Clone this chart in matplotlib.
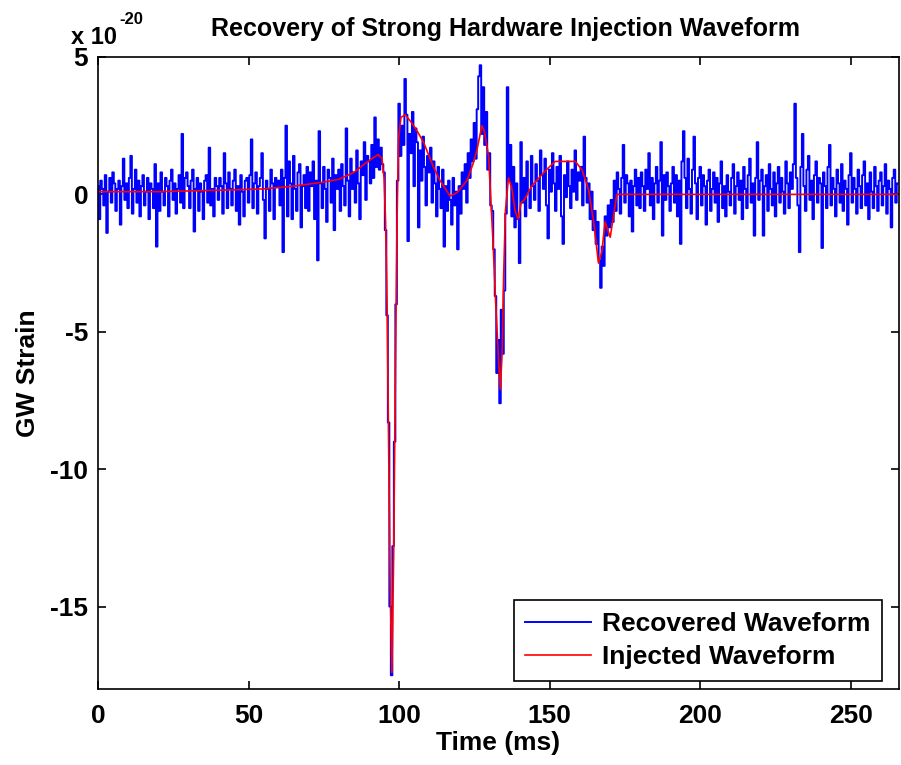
import numpy as np
import matplotlib
matplotlib.use("Agg")
import matplotlib.pyplot as plt

plt.rcParams['font.family'] = ['Liberation Sans', 'DejaVu Sans']
plt.rcParams['font.weight'] = 'bold'
plt.rcParams['axes.labelweight'] = 'bold'
plt.rcParams['axes.unicode_minus'] = False

# Señal recuperada (unidades de 1e-20), muestreo cada 0.5 ms
dt_ms = 0.5
recovered = [
    0.3, -0.9, 0.5, 0.2, -0.4, 0.7, -1.4, 0.1, 0.6, -0.3, 0.8, 0.4, -0.6, 0.2, 0.5, -1.1, 0.3, 1.3, -0.2, 0.4,
    -0.5, 0.6, 1.4, -0.7, 0.2, 0.9, -0.3, 0.5, -0.8, 0.3, 0.7, -0.4, 0.1, 0.6, -0.9, 0.4, 0.2, -0.5, 1.1, -1.9,
    0.4, -0.6, 0.8, 0.1, -0.4, 0.6, 0.3, -0.8, 0.5, 0.9, -0.2, 0.4, -0.7, 0.2, 0.7, -0.3, 2.2, -0.5, 0.6, 0.8,
    0.3, -0.5, 0.5, 0.9, -1.35, 0.2, 0.6, -0.6, 0.4, 0.1, -0.9, 0.5, 0.7, -0.3, 1.7, -0.4, 0.2, -0.8, 0.6, 0.3,
    -0.2, 0.6, 0.3, -0.7, 1.5, 0.4, -0.5, 0.8, 0.2, -0.4, 0.5, 0.9, -0.6, 0.3, -1.1, 0.7, 0.1, -0.8, 0.5, 0.6,
    -0.3, 0.7, 2.0, -0.5, 0.4, 0.8, -0.7, 0.3, 0.6, 1.5, -0.2, -1.6, 0.5, 0.2, -0.6, 0.9, 0.4, -0.9, 0.6, 0.3,
    0.5, -0.4, 0.9, -2.1, 0.6, 2.5, -0.8, 1.2, 0.4, -0.9, 1.4, 0.2, -0.6, 0.8, 1.1, -1.2, 0.3, 0.7, -0.5, 1.0,
    -0.6, 0.8, 0.3, 1.2, -0.9, 0.5, -2.4, 2.3, 0.4, -0.5, 1.0, 0.2, -1.0, 0.9, 0.6, -0.3, 1.3, -1.3, 0.7, 0.2,
    0.9, -0.6, 1.1, 0.3, -0.4, 2.4, 0.5, -0.8, 1.3, 0.2, 0.8, -0.3, 1.6, 0.4, -0.9, 1.2, 0.7, 1.9, -0.2, 1.4,
    1.2, 0.4, 1.8, 0.6, 2.8, 1.0, 2.0, 0.9, 1.7, 1.1, 0.8, -1.3, -4.4, -8.3, -15.0, -17.5, -12.8, -9.0, -4.0, 0.5,
    3.3, 1.4, 2.5, 1.8, 4.2, 2.9, -1.7, 2.2, 1.5, 3.0, 0.3, 2.4, 1.9, -1.2, 1.6, 0.5, 2.1, 1.0, -0.4, 1.4,
    0.8, 1.7, -0.3, 1.2, 0.4, -0.8, 1.0, 0.2, -0.5, 0.9, -1.9, 0.3, -0.6, 0.5, -0.2, -1.1, 0.6, -0.4, 0.1, -2.0,
    0.3, -0.7, 0.8, 0.2, 1.1, -0.3, 1.5, 0.6, 2.0, 1.2, 2.6, 1.3, 3.1, 4.3, 4.7, 2.2, 3.9, 1.8, 3.0, 0.9,
    1.5, -0.4, -0.6, -2.0, -3.7, -6.5, -5.3, -7.6, -4.2, -5.8, -3.5, -0.7, 3.9, 0.5, 1.8, -0.8, 1.0, -1.2, 0.4, -0.9,
    -2.5, 1.9, -0.3, 0.6, -0.8, 1.2, 0.1, -0.5, 1.4, 0.3, -0.2, 1.1, 0.5, -0.6, 1.6, 0.7, 0.2, 1.3, -0.4, -1.6,
    0.9, 0.1, 1.5, 0.4, -0.6, 1.0, 0.2, 1.4, -0.8, -1.8, 0.7, -0.1, 1.2, 0.3, -0.5, 0.9, 0.1, 1.6, -0.2, 0.8,
    0.5, 1.0, -0.4, 2.1, 0.6, -0.3, 0.4, -0.9, 0.1, -1.3, -0.6, -1.8, -1.0, -2.4, -3.4, -1.9, -2.6, -0.8, -1.5, -0.4,
    -1.2, -0.2, -1.0, 0.5, -0.6, 0.8, 0.2, -0.7, 0.6, 1.8, -0.3, 0.7, 0.4, -0.8, 0.5, -1.35, 0.3, 0.9, -0.4, 0.6,
    -0.5, 0.8, 0.3, -0.6, 0.9, 0.2, 1.5, -0.4, 0.6, -0.9, 0.4, 1.0, -0.3, 0.5, 1.9, -1.5, 0.7, -0.2, 0.8, 0.3,
    -0.6, 0.4, 1.0, -0.3, 0.7, -0.8, 0.5, -1.8, 1.2, 2.3, 0.6, -0.5, 1.3, 0.2, -0.7, 0.9, 2.1, 0.4, -0.9, 0.6,
    1.0, -0.4, 0.7, 0.3, -1.1, 0.5, 0.9, -0.6, 0.2, 0.8, -0.3, 0.6, -1.0, 0.4, 1.2, -0.5, 0.3, -0.8, 0.7, 0.1,
    -0.4, 0.6, 1.1, -0.7, 0.3, 0.8, -0.2, 0.5, -0.9, 1.0, 0.2, -0.5, 0.7, 1.3, -0.3, 0.4, -1.5, 0.6, 1.9, -0.2,
    0.5, 0.9, -1.5, 0.3, 0.7, -0.6, 1.1, 0.2, -0.4, 0.8, -0.8, 0.4, 1.0, -0.3, 0.6, 0.1, -0.7, 1.2, 0.4, -0.5,
    0.8, 0.2, 1.1, 3.3, 0.6, -0.4, -2.1, 1.0, 2.2, 0.3, -0.6, 0.9, 1.4, -0.2, 0.5, -0.9, 0.7, 1.2, -0.3, 0.6,
    0.4, -1.95, 0.8, 0.3, -0.5, 1.0, 1.8, -0.4, 0.6, 0.2, -0.8, 0.9, 0.4, -0.3, 1.1, -0.6, 0.5, 0.2, -1.1, 0.7,
    1.5, -0.3, 0.6, 0.2, -0.7, 0.9, 0.3, -0.5, 0.7, 1.2, -0.4, 0.4, -0.9, 0.8, 0.1, -0.5, 1.0, 0.3, -0.6, 0.5,
    0.8, -0.4, 0.3, 1.1, -0.7, 0.5, 0.2, -1.2, 0.6, 0.9, -0.3, 0.4,
]
t_recovered = np.arange(len(recovered)) * dt_ms

# Forma de onda inyectada (unidades de 1e-20)
t_injected = [0, 20, 40, 55, 65, 75, 80, 85, 89, 93, 94.3, 95.0, 95.5, 96.0, 96.5, 97.0, 97.6,
              98.2, 98.8, 99.3, 99.8, 100.6, 102.0, 104.2, 106.0, 108.1, 111.4, 113.6, 116.9,
              119.2, 122.5, 124.5, 125.8, 127.5, 128.3, 129.7, 130.6, 131.3, 132.0, 133.0, 133.6,
              134.2, 134.7, 135.3, 136.3, 137.5, 138.5, 139.5, 140.5, 141.7, 144.0, 147.4, 149.6,
              151.8, 158.5, 160.7, 162.9, 164.6, 166.2, 167.3, 168.4, 170.1, 171.2, 172.3, 266.0]
injected = [0.1, 0.1, 0.15, 0.2, 0.3, 0.45, 0.55, 0.8, 1.15, 1.45, 1.3, 0.6, -1.0, -4.0, -9.0, -14.0, -17.4,
            -13.0, -6.0, -1.0, 2.0, 2.8, 2.9, 2.6, 2.3, 1.9, 1.0, 0.5, -0.06,
            0.06, 0.5, 1.1, 1.6, 2.5, 2.3, 1.4, -0.5, -2.0, -3.8, -6.0, -7.1,
            -5.8, -3.0, -0.6, 0.6, 0.2, -0.6, -0.9, -0.3, -0.18, 0.3, 0.72, 0.97,
            1.2, 1.2, 0.9, 0.18, -1.0, -2.5, -2.1, -1.0, -1.56, -0.78, 0.0, 0.0]

fig = plt.figure(figsize=(9.01, 7.65), dpi=100)
ax = fig.add_axes([98 / 901, 1 - 689 / 765, 801 / 901, 632 / 765])

ax.plot(t_recovered, recovered, color=(0, 0, 1), lw=1.4, drawstyle='steps-mid',
        label="Recovered Waveform")
ax.plot(t_injected, injected, color=(1, 0, 0), lw=1.2, label="Injected Waveform")

ax.set_xlim(0, 266)
ax.set_ylim(-18, 5)
ax.set_xticks([0, 50, 100, 150, 200, 250])
ax.set_yticks([-15, -10, -5, 0, 5])
ax.tick_params(direction='in', length=6, width=1.2, labelsize=19,
               top=True, right=True)
ax.tick_params(axis='x', pad=11)
ax.tick_params(axis='y', pad=7)
for s in ax.spines.values():
    s.set_linewidth(1.2)

ax.set_xlabel("Time (ms)", fontsize=19)
ax.xaxis.set_label_coords(0.5, -0.066)
ax.set_ylabel("GW Strain", fontsize=19)
ax.yaxis.set_label_coords(-0.072, 0.5)

fig.text(505 / 901, 1 - 29 / 765, "Recovery of Strong Hardware Injection Waveform",
         ha='center', va='center', fontsize=18)
fig.text(71 / 901, 1 - 38 / 765, "x 10", ha='left', va='center', fontsize=17)
fig.text(119 / 901, 1 - 20 / 765, "-20", ha='left', va='center', fontsize=12)

leg = ax.legend(loc='lower right', bbox_to_anchor=(0.979, 0.0127), borderaxespad=0,
                fontsize=19, fancybox=False, framealpha=1, edgecolor='black',
                handlelength=2.5, handletextpad=0.4, labelspacing=0.35, borderpad=0.45)
leg.get_frame().set_linewidth(1.2)

fig.savefig("out.png", dpi=100)
